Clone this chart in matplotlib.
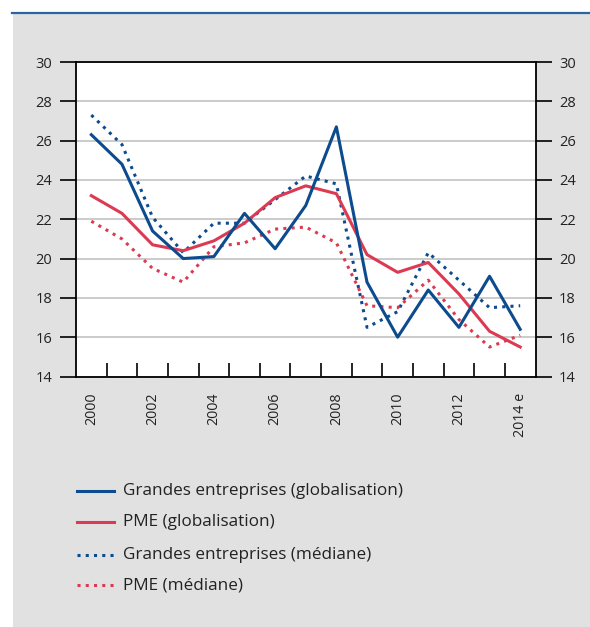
import matplotlib
matplotlib.use("Agg")
import matplotlib.pyplot as plt
from matplotlib.lines import Line2D

plt.rcParams['font.family'] = ['Open Sans', 'DejaVu Sans']

years = list(range(2000, 2015))
year_labels = ["2000", "2002", "2004", "2006", "2008", "2010", "2012", "2014 e"]

grandes_glob = [26.3, 24.8, 21.4, 20.0, 20.1, 22.3, 20.5, 22.7, 26.7, 18.8, 16.0, 18.4, 16.5, 19.1, 16.4]
pme_glob = [23.2, 22.3, 20.7, 20.4, 20.9, 21.8, 23.1, 23.7, 23.3, 20.2, 19.3, 19.8, 18.2, 16.3, 15.5]
grandes_med = [27.3, 25.8, 22.1, 20.3, 21.8, 21.8, 23.0, 24.2, 23.8, 16.5, 17.3, 20.3, 18.9, 17.5, 17.6]
pme_med = [21.9, 21.0, 19.5, 18.8, 20.6, 20.8, 21.5, 21.6, 20.8, 17.6, 17.5, 18.9, 16.9, 15.5, 16.1]

labels = ["Grandes entreprises (globalisation)", "PME (globalisation)",
          "Grandes entreprises (médiane)", "PME (médiane)"]

BLUE = "#0c4b8e"
RED = "#dc3a52"
BG = "#e1e1e1"
TXT = "#222222"
DOT = (0, (1, 1.7))

W, H = 590, 627
fig = plt.figure(figsize=(W / 100, H / 100), dpi=100, facecolor="white")

# grey panel with a blue rule on top
fig.patches.append(plt.Rectangle((13 / W, 0), 1 - 13 / W, 1 - 13 / H,
                                 transform=fig.transFigure, facecolor=BG,
                                 edgecolor="none", zorder=-10))
fig.add_artist(Line2D([12 / W, 1], [1 - 13 / H, 1 - 13 / H], transform=fig.transFigure,
                      color="#2a64a3", linewidth=1.6, zorder=-5))

left, right, top, bottom = 76, 535.5, 62, 376.5
ax = fig.add_axes([left / W, 1 - bottom / H, (right - left) / W, (bottom - top) / H])
ax.set_zorder(1)
ax.set_facecolor("white")

x = list(range(len(years)))
ax.plot(x, grandes_med, color=BLUE, lw=2.2, linestyle=DOT, zorder=3)
ax.plot(x, pme_med, color=RED, lw=2.2, linestyle=DOT, zorder=3)
ax.plot(x, pme_glob, color=RED, lw=2.2, zorder=4)
ax.plot(x, grandes_glob, color=BLUE, lw=2.2, zorder=5)

ax.set_xlim(-0.5, len(years) - 0.5)
ax.set_ylim(14, 30)
ax.set_yticks(list(range(14, 31, 2)))
ax.grid(axis="y", color="#bdbdbd", linewidth=1.1, zorder=1)
ax.set_axisbelow(True)

# category boundaries as inner ticks on the bottom axis
ax.set_xticks([i + 0.5 for i in range(len(years) - 1)])
ax.set_xticklabels([])
ax.tick_params(axis="x", direction="in", length=10, width=1.2, color="black")
ax.tick_params(axis="y", direction="out", length=11.5, width=1.2, labelsize=10.5,
               labelcolor=TXT, left=True, right=True, labelleft=True,
               labelright=True, pad=5.5)
for s in ax.spines.values():
    s.set_color("black")
    s.set_linewidth(1.3)

for i, lab in zip(range(0, len(years), 2), year_labels):
    ax.annotate(lab, xy=(i, 0), xycoords=("data", "axes fraction"),
                xytext=(0, -16), textcoords="offset pixels",
                rotation=90, ha="center", va="top", fontsize=10.3, color=TXT,
                annotation_clip=False)

# legend
entries = [(BLUE, "-"), (RED, "-"), (BLUE, DOT), (RED, DOT)]
ys = [491, 522, 555, 585]
for (c, ls), lab, yy in zip(entries, labels, ys):
    fy = 1 - yy / H
    fig.add_artist(Line2D([77 / W, 114 / W], [fy, fy], transform=fig.transFigure,
                          color=c, lw=2.2, linestyle=ls))
    fig.text(123 / W, fy, lab, fontsize=12.3, color=TXT, va="center", ha="left")

fig.savefig("out.png", dpi=100, facecolor="white")
